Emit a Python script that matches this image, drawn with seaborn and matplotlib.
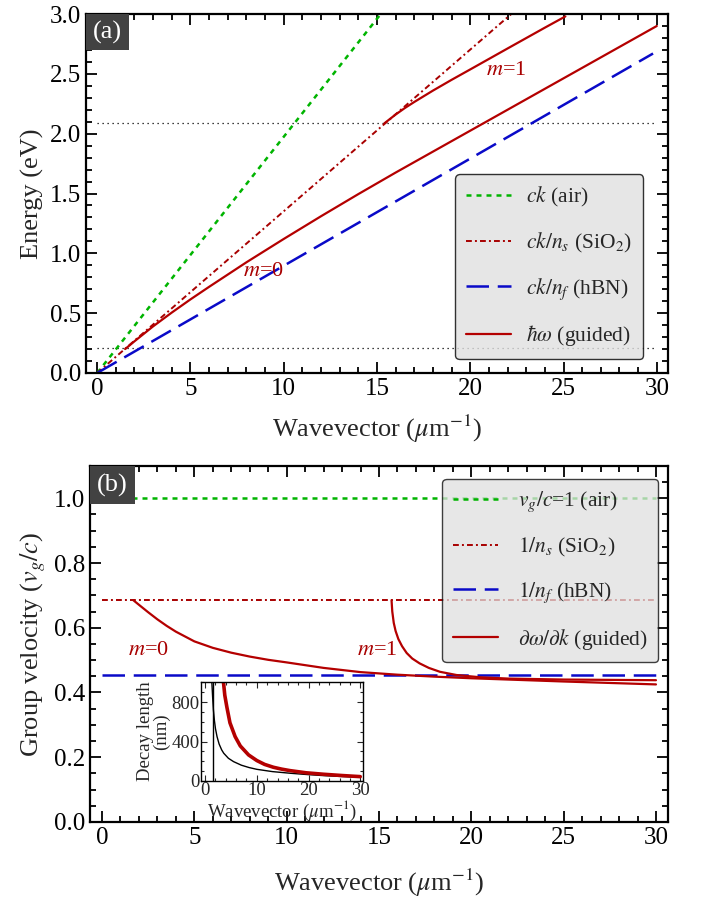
import seaborn as sns
from matplotlib import pyplot as plt
from matplotlib.patches import Rectangle
from matplotlib.ticker import MultipleLocator

# ---- panel (a): dispersion, k in 1/um, E in eV ----
k_air = [0.0, 15.2]
E_air = [0.0, 3.0]
k_sio2 = [0.0, 22.2]
E_sio2 = [0.0, 3.0]
k_hbn = [0.0, 29.8]
E_hbn = [0.0, 2.67]

k_m0 = [1.5, 2, 3, 4, 5, 6, 8, 10, 12, 14, 16, 18, 20, 22, 24, 26, 28, 30]
E_m0 = [0.20, 0.265, 0.39, 0.505, 0.615, 0.72, 0.925, 1.12, 1.31, 1.495,
        1.675, 1.85, 2.025, 2.20, 2.375, 2.55, 2.725, 2.90]
k_m1 = [15.4, 16, 16.5, 17, 18, 19, 20, 22, 24, 25.1]
E_m1 = [2.087, 2.16, 2.215, 2.265, 2.36, 2.45, 2.537, 2.712, 2.886, 2.98]

E_marks = [0.21, 2.09]
k_span = [0.0, 30.0]

# ---- panel (b): group velocity ----
vg_air = 1.0
vg_sio2 = 0.685
vg_hbn = 0.455
kv_m0 = [1.7, 2.0, 2.5, 3.0, 3.5, 4.0, 5.0, 6.0, 7.0, 8.0, 9.0, 10.0, 12.0,
         14.0, 16.0, 18.0, 20.0, 22.0, 25.0, 30.0]
vg_m0 = [0.685, 0.671, 0.648, 0.626, 0.606, 0.588, 0.558, 0.538, 0.523, 0.511,
         0.501, 0.493, 0.476, 0.463, 0.455, 0.449, 0.444, 0.440, 0.434, 0.425]
kv_m1 = [15.68, 15.72, 15.8, 15.9, 16.05, 16.25, 16.5, 16.8, 17.2, 17.7,
         18.3, 19.2, 20.5, 22.0, 25.0, 30.0]
vg_m1 = [0.685, 0.650, 0.615, 0.590, 0.565, 0.543, 0.522, 0.505, 0.490, 0.476,
         0.464, 0.454, 0.447, 0.443, 0.440, 0.438]

# ---- inset: decay length (nm) ----
kd_air = [1.3, 1.45, 1.6, 1.8, 2.0, 2.3, 2.7, 3.2, 3.6, 4.5, 5.5, 7.0, 8.5,
          10.0, 13.0, 16.5, 20.0, 23.0, 26.5, 30.0]
L_air = [1000, 850, 720, 610, 530, 450, 375, 315, 281, 230, 196, 160, 136,
         118, 95, 78, 64, 54, 45, 38]
kd_sub = [3.55, 3.8, 4.2, 4.8, 5.8, 6.8, 8.4, 10.0, 11.5, 13.2, 14.8, 16.4,
          19.5, 22.9, 26.5, 30.0]
L_sub = [1000, 870, 750, 590, 450, 355, 264, 207, 168, 139, 120, 105, 83,
         68, 55, 44]
k_cut = 1.5

GREEN = "#00b400"
DRED = "#a80000"
RED = "#b40000"
BLUE = "#0a0ac8"

sns.set_theme(style="ticks")
plt.rcParams["font.family"] = ["Liberation Serif", "DejaVu Serif"]
plt.rcParams["mathtext.fontset"] = "stix"
plt.rcParams["axes.linewidth"] = 1.6
plt.rcParams["axes.edgecolor"] = "black"

DOT = (0, (2, 2))
DASHDOT = (0, (3, 1.6, 1, 1.6))
DASH = (0, (9, 3.5))


def style_axes(ax, ymaj, ymin, size=18):
    ax.xaxis.set_major_locator(MultipleLocator(5))
    ax.xaxis.set_minor_locator(MultipleLocator(1))
    ax.yaxis.set_major_locator(MultipleLocator(ymaj))
    ax.yaxis.set_minor_locator(MultipleLocator(ymin))
    ax.tick_params(which="both", direction="in", top=True, right=True,
                   colors="black", labelsize=size, width=1.3)
    ax.tick_params(which="major", length=8)
    ax.tick_params(which="minor", length=4)


def panel_tag(ax, text, w, h):
    ax.add_patch(Rectangle((0, 1 - h), w, h, transform=ax.transAxes,
                           facecolor="#424242", edgecolor="none", zorder=5,
                           clip_on=False))
    ax.text(w / 2, 1 - h / 2, text, transform=ax.transAxes, color="white",
            fontsize=19, ha="center", va="center", zorder=6)


def add_legend(ax, loc, anchor, pad, alpha):
    leg = ax.legend(loc=loc, bbox_to_anchor=anchor, borderaxespad=0,
                    fontsize=15.5, handlelength=2.1, handletextpad=pad,
                    labelspacing=1.0, borderpad=0.5, fancybox=True,
                    framealpha=alpha, facecolor="#e0e0e0", edgecolor="black")
    leg.get_frame().set_linewidth(1.0)
    return leg


fig = plt.figure(figsize=(7.07, 8.99), dpi=100)

# ---------------- (a) ----------------
ax1 = fig.add_axes([0.1216, 0.5851, 0.8232, 0.3993])
for e in E_marks:
    ax1.hlines(e, k_span[0], k_span[1], colors="black", lw=0.9,
               linestyles=(0, (1, 3)), zorder=1)
sns.lineplot(x=k_air, y=E_air, ax=ax1, color=GREEN, lw=1.8, linestyle=DOT,
             label=r"$ck$ (air)")
sns.lineplot(x=k_sio2, y=E_sio2, ax=ax1, color=DRED, lw=1.4, linestyle=DASHDOT,
             label=r"$ck/n_s$ (SiO$_2$)")
sns.lineplot(x=k_hbn, y=E_hbn, ax=ax1, color=BLUE, lw=1.8, linestyle=DASH,
             label=r"$ck/n_f$ (hBN)")
sns.lineplot(x=k_m0, y=E_m0, ax=ax1, color=RED, lw=1.6,
             label=r"$\hbar\omega$ (guided)")
sns.lineplot(x=k_m1, y=E_m1, ax=ax1, color=RED, lw=1.6)
ax1.set_xlim(-0.6, 30.6)
ax1.set_ylim(0, 3.0)
style_axes(ax1, 0.5, 0.1)
ax1.set_xlabel(r"Wavevector ($\mu$m$^{-1}$)", fontsize=19, labelpad=9)
ax1.set_ylabel("Energy (eV)", fontsize=19)
ax1.text(8.9, 0.845, r"$m$=0", color=DRED, fontsize=16, ha="center", va="center")
ax1.text(21.9, 2.53, r"$m$=1", color=DRED, fontsize=16, ha="center", va="center")
add_legend(ax1, "lower right", (0.957, 0.039), 0.7, 0.8)
panel_tag(ax1, "(a)", 0.074, 0.10)

# ---------------- (b) ----------------
ax2 = fig.add_axes([0.1273, 0.0857, 0.8175, 0.3960])
sns.lineplot(x=k_span, y=[vg_air, vg_air], ax=ax2, color=GREEN, lw=1.8,
             linestyle=DOT, label=r"$v_g/c$=1 (air)")
sns.lineplot(x=k_span, y=[vg_sio2, vg_sio2], ax=ax2, color=DRED, lw=1.4,
             linestyle=DASHDOT, label=r"$1/n_s$ (SiO$_2$)")
sns.lineplot(x=k_span, y=[vg_hbn, vg_hbn], ax=ax2, color=BLUE, lw=1.8,
             linestyle=DASH, label=r"$1/n_f$ (hBN)")
sns.lineplot(x=kv_m0, y=vg_m0, ax=ax2, color=RED, lw=1.6,
             label=r"$\partial\omega/\partial k$ (guided)")
sns.lineplot(x=kv_m1, y=vg_m1, ax=ax2, color=RED, lw=1.6)
ax2.set_xlim(-0.65, 30.65)
ax2.set_ylim(0, 1.1)
style_axes(ax2, 0.2, 0.05)
ax2.set_xlabel(r"Wavevector ($\mu$m$^{-1}$)", fontsize=19, labelpad=13)
ax2.set_ylabel(r"Group velocity ($v_g/c$)", fontsize=19)
ax2.text(2.5, 0.531, r"$m$=0", color=DRED, fontsize=16, ha="center", va="center")
ax2.text(14.9, 0.531, r"$m$=1", color=DRED, fontsize=16, ha="center", va="center")
add_legend(ax2, "upper right", (0.983, 0.963), 0.9, 0.75)
panel_tag(ax2, "(b)", 0.078, 0.107)

# ---------------- inset ----------------
axi = fig.add_axes([0.2843, 0.1313, 0.2296, 0.1097])
axi.axvline(k_cut, color="black", lw=1.0)
sns.lineplot(x=kd_air, y=L_air, ax=axi, color="black", lw=1.0)
sns.lineplot(x=kd_sub, y=L_sub, ax=axi, color=RED, lw=2.6)
axi.set_xlim(-0.8, 30.6)
axi.set_ylim(0, 1000)
axi.xaxis.set_major_locator(MultipleLocator(10))
axi.xaxis.set_minor_locator(MultipleLocator(2))
axi.yaxis.set_major_locator(MultipleLocator(400))
axi.yaxis.set_minor_locator(MultipleLocator(100))
axi.tick_params(which="both", direction="in", top=True, right=True,
                labelsize=13.5, pad=1, width=0.8)
axi.tick_params(which="major", length=4)
axi.tick_params(which="minor", length=2)
for s in axi.spines.values():
    s.set_linewidth(1.0)
axi.set_xlabel(r"Wavevector ($\mu$m$^{-1}$)", fontsize=13.5, labelpad=0)
axi.set_ylabel("Decay length\n(nm)", fontsize=13.5, labelpad=1, linespacing=0.9)

fig.savefig("out.png", dpi=100)
